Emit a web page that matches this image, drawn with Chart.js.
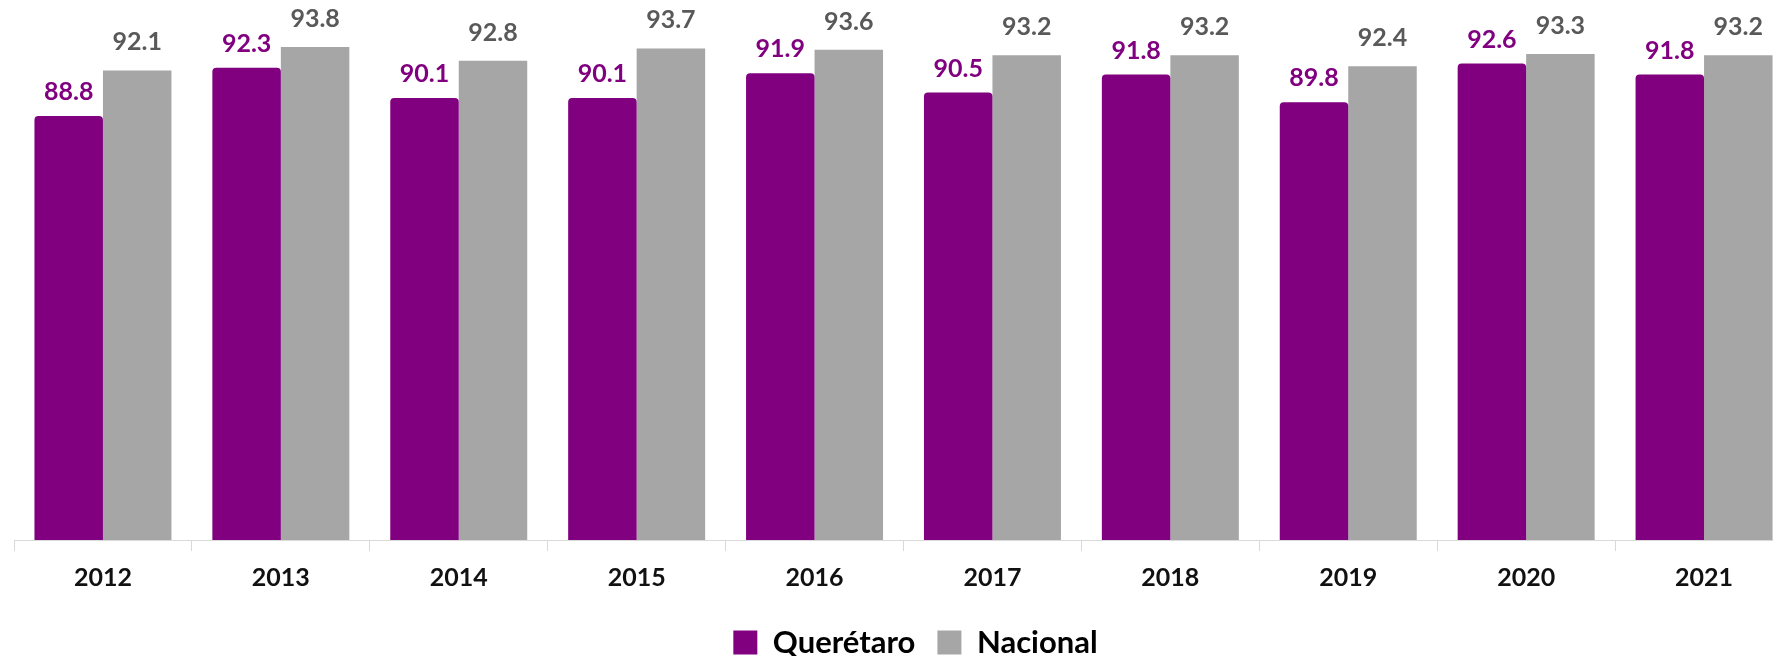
<!DOCTYPE html>
<html>
<head>
<meta charset="utf-8">
<script src="https://cdn.jsdelivr.net/npm/chart.js@4.4.1/dist/chart.umd.min.js"></script>
<style>
    html, body { margin: 0; padding: 0; background: #fff; overflow: hidden; }
    #wrap { width: 1800px; height: 656px; }
</style>
</head>
<body>
<div id="wrap"><canvas id="chart" width="1800" height="656"></canvas></div>
<script>
    // Chart data
    const years = ['2012', '2013', '2014', '2015', '2016', '2017', '2018', '2019', '2020', '2021'];
    const queretaro = [88.8, 92.3, 90.1, 90.1, 91.9, 90.5, 91.8, 89.8, 92.6, 91.8];
    const nacional = [92.1, 93.8, 92.8, 93.7, 93.6, 93.2, 93.2, 92.4, 93.3, 93.2];

    const PURPLE = '#800080';
    const GRAY = '#a6a6a6';
    const FONT = 'Lato, "Open Sans", sans-serif';

    // Value labels above bars
    const valueLabels = {
        id: 'valueLabels',
        afterDatasetsDraw(chart) {
            const ctx = chart.ctx;
            ctx.save();
            ctx.font = 'bold 25px ' + FONT;
            ctx.textAlign = 'center';
            ctx.textBaseline = 'alphabetic';
            chart.data.datasets.forEach((ds, i) => {
                const meta = chart.getDatasetMeta(i);
                ctx.fillStyle = ds.labelColor;
                meta.data.forEach((bar, j) => {
                    ctx.fillText(ds.data[j].toFixed(1), bar.x, bar.y - ds.labelGap);
                });
            });
            ctx.restore();
        }
    };

    // nudge legend to the right a little
    const legendShift = {
        id: 'legendShift',
        afterLayout(chart) {
            chart.legend.left += 12;
            chart.legend.right += 12;
        }
    };

    new Chart(document.getElementById('chart'), {
        type: 'bar',
        data: {
            labels: years,
            datasets: [{
                label: 'Querétaro',
                data: queretaro,
                backgroundColor: PURPLE,
                borderRadius: { topLeft: 4, topRight: 4 },
                borderSkipped: 'start',
                labelColor: PURPLE,
                labelGap: 16
            }, {
                label: 'Nacional',
                data: nacional,
                backgroundColor: GRAY,
                labelColor: '#595959',
                labelGap: 20
            }]
        },
        options: {
            responsive: false,
            animation: false,
            layout: { padding: { left: 14, right: 7, top: 3, bottom: -12 } },
            categoryPercentage: 0.77,
            barPercentage: 1.0,
            plugins: {
                legend: {
                    position: 'bottom',
                    labels: {
                        boxWidth: 24,
                        boxHeight: 24,
                        padding: 22,
                        color: '#000',
                        font: { family: FONT, size: 31, weight: 'bold' }
                    }
                },
                tooltip: { enabled: false }
            },
            scales: {
                x: {
                    grid: {
                        display: true,
                        offset: true,
                        drawOnChartArea: false,
                        drawTicks: true,
                        tickLength: 11,
                        color: '#d9d9d9'
                    },
                    border: { display: true, color: '#d9d9d9', width: 1 },
                    ticks: {
                        padding: 12,
                        color: '#111',
                        font: { family: FONT, size: 25, weight: 'bold' }
                    }
                },
                y: {
                    display: false,
                    min: 58,
                    max: 97
                }
            }
        },
        plugins: [valueLabels, legendShift]
    });
</script>
</body>
</html>
